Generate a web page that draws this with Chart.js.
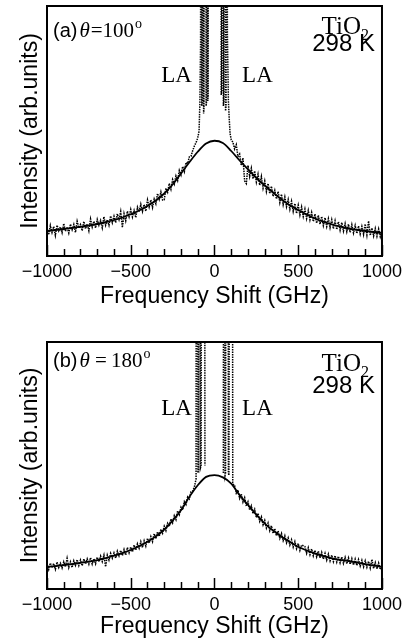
<!DOCTYPE html>
<html>
<head>
<meta charset="utf-8">
<script src="https://cdn.jsdelivr.net/npm/chart.js@4/dist/chart.umd.min.js"></script>
<style>
  html, body { margin: 0; padding: 0; background: #fff; }
  #wrap { position: relative; width: 407px; height: 642px; }
  canvas { position: absolute; left: 0; }
  #ca { top: 0; }
  #cb { top: 320px; }
</style>
</head>
<body>
<div id="wrap">
  <canvas id="ca" width="407" height="320"></canvas>
  <canvas id="cb" width="407" height="322"></canvas>
</div>
<script>
// Brillouin spectra of TiO2 at 298 K for two scattering angles.
// Intensities are in arbitrary units (0 = bottom of the frame, 1 = top).

const tickValues = [-1000, -500, 0, 500, 1000];
const wingStep = 10;               // GHz between samples in the spectral wings

// Lorentzian-type fit, sampled every 50 GHz from -1000 to 1000
const fitStart = -1000, fitStep = 50;
const fitA = [.100,.104,.108,.112,.117,.122,.128,.135,.144,.154,
              .167,.182,.200,.222,.250,.286,.330,.375,.417,.450,
              .461,
              .452,.420,.382,.347,.312,.282,.254,.226,.203,.184,
              .166,.150,.137,.127,.118,.110,.105,.100,.096,.093];
const fitB = [.090,.093,.097,.101,.106,.111,.117,.125,.135,.145,
              .158,.173,.191,.213,.241,.277,.319,.373,.420,.454,
              .461,
              .452,.427,.380,.340,.301,.265,.237,.212,.190,.171,
              .156,.144,.133,.124,.118,.113,.107,.101,.095,.090];

// (a) θ = 100°  measured spectrum
const wingLeftStartA = -1000;
const wingLeftA = [
  .112,.085,.122,.094,.118,.082,.123,.101,.116,.093,
  .130,.099,.116,.092,.127,.105,.126,.094,.139,.113,
  .126,.101,.138,.109,.128,.101,.148,.116,.139,.112,
  .146,.123,.142,.113,.157,.123,.145,.123,.160,.133,
  .159,.133,.169,.146,.178,.114,.169,.141,.179,.157,
  .186,.156,.182,.154,.195,.177,.207,.178,.206,.179,
  .224,.196,.224,.194,.228,.209,.250,.227,.256,.224,
  .225,.271,.255,.290,.267,.306,.288,.320,.302,.342,
  .324,.358,.337,.374,.370,.397,.399,.422,.440,.454,
  .472];
const peakLeftFreqA = [-92,-87,-83,-80,-77,-76,-74,-72,-66,-65,-63,-60,-52,-50,-48,-45,-41,-40,-38,-37];
const peakLeftA     = [.50,.62,.85,3,3,.60,.61,3,3,.57,.59,3,3,.60,.61,3,3,.62,.64,3];
const peakRightFreqA = [39,40,43,46,50,53,56,59,63,66,69,72,74,77,83,88,93,100];
const peakRightA     = [3,.644,.66,3,3,.60,.62,3,3,.58,.60,3,3,.89,.62,.55,.49,.465];
const wingRightStartA = 110;
const wingRightA = [
  .455,.428,.445,.398,.408,.362,.392,.300,.290,.362,
  .318,.351,.309,.340,.296,.327,.283,.318,.271,.300,
  .258,.290,.250,.279,.238,.262,.228,.258,.214,.247,
  .205,.236,.197,.226,.187,.219,.178,.210,.170,.203,
  .164,.196,.158,.188,.150,.182,.145,.174,.138,.168,
  .131,.163,.127,.158,.122,.153,.118,.149,.113,.145,
  .109,.141,.106,.137,.103,.134,.100,.130,.097,.127,
  .094,.125,.092,.122,.090,.120,.088,.118,.086,.128,
  .084,.140,.082,.112,.080,.110,.079,.108,.077,.098];

// (b) θ = 180°  measured spectrum
const wingLeftStartB = -1000;
const wingLeftB = [
  .100,.079,.105,.086,.103,.080,.109,.087,.104,.085,
  .110,.089,.124,.087,.110,.087,.114,.096,.119,.095,
  .117,.094,.122,.101,.122,.101,.127,.101,.123,.102,
  .129,.110,.133,.111,.137,.090,.137,.117,.144,.125,
  .146,.125,.153,.134,.156,.135,.160,.137,.168,.146,
  .170,.150,.178,.157,.183,.165,.192,.168,.195,.174,
  .205,.186,.212,.192,.224,.203,.232,.213,.242,.226,
  .254,.236,.266,.253,.284,.268,.297,.281,.316,.301,
  .331,.320,.354,.342,.373,.365,.394,.397,.413];
const peakLeftFreqB = [-115,-110,-107,-103,-99,-95,-91,-87,-84,-80,-77,-60,-57];
const peakLeftB     = [.43,.445,3,3,.47,.48,3,3,.49,.50,3,3,.50];
const peakRightFreqB = [53,55,60,63,66,70,80,83,86,94,106,109,115];
const peakRightB     = [.47,3,3,.46,.47,3,3,.47,.46,3,3,.43,.42];
const wingRightStartB = 120;
const wingRightB = [
  .420,.388,.401,.367,.385,.352,.370,.336,.353,
  .320,.337,.305,.322,.289,.307,.274,.292,.260,.278,
  .247,.267,.236,.256,.225,.245,.215,.235,.205,.225,
  .196,.216,.187,.207,.178,.199,.170,.192,.163,.184,
  .156,.178,.175,.172,.144,.167,.139,.162,.134,.157,
  .130,.153,.125,.148,.121,.144,.117,.141,.114,.137,
  .111,.135,.109,.132,.106,.130,.104,.128,.102,.126,
  .100,.123,.097,.121,.095,.119,.093,.116,.090,.114,
  .088,.112,.085,.120,.083,.107,.081,.105,.079,.097];

// ---- helpers -------------------------------------------------------------
const sampled = (start, step, values) => values.map((y, i) => ({ x: start + i * step, y }));
const paired = (xs, ys) => xs.map((x, i) => ({ x, y: ys[i] }));

const SANS = '"Liberation Sans", Arial, Helvetica, sans-serif';
const SERIF = '"Liberation Serif", "Times New Roman", Times, serif';

// Frame around the plot area plus inward minor/major ticks on the frequency axis
const frameAndTicks = {
  id: 'frameAndTicks',
  afterDatasetsDraw(chart) {
    const { ctx, chartArea: a, scales: { x } } = chart;
    ctx.save();
    ctx.strokeStyle = '#000';
    ctx.lineWidth = 1.5;
    for (let v = x.min; v <= x.max; v += 100) {
      const px = Math.round(x.getPixelForValue(v)) + 0.5;
      const len = v % 500 === 0 ? 11 : 7;
      ctx.beginPath();
      ctx.moveTo(px, a.bottom);
      ctx.lineTo(px, a.bottom - len);
      ctx.stroke();
    }
    ctx.lineWidth = 2;
    ctx.strokeRect(a.left, a.top, a.right - a.left, a.bottom - a.top);
    ctx.restore();
  }
};

// Panel tag, scattering angle, sample, temperature and LA labels
const panelLabels = {
  id: 'panelLabels',
  afterDraw(chart, args, o) {
    const { ctx, chartArea: a, scales: { x } } = chart;
    const t = a.top;
    ctx.save();
    ctx.fillStyle = '#000';
    ctx.textBaseline = 'alphabetic';
    ctx.textAlign = 'left';

    let px = a.left + 6;
    const base = t + o.tagY;
    ctx.font = '20px ' + SANS;
    ctx.fillText(o.tag, px, base);
    px += ctx.measureText(o.tag).width + 2;
    ctx.font = 'italic 21px ' + SERIF;
    ctx.fillText('\u03b8', px, base);
    px += ctx.measureText('\u03b8').width + 1;
    ctx.font = '21px ' + SERIF;
    ctx.fillText(o.eq, px, base);
    px += ctx.measureText(o.eq).width + 1;
    ctx.font = '14px ' + SERIF;
    ctx.fillText('o', px, base - 9);

    ctx.font = '23px ' + SERIF;
    ctx.textAlign = 'right';
    ctx.fillText('LA', x.getPixelForValue(-135), t + o.laY);
    ctx.textAlign = 'left';
    ctx.fillText('LA', x.getPixelForValue(165), t + o.laY);

    // TiO2 with subscript, right aligned with the temperature
    const rightEdge = a.right - 7;
    ctx.font = '16px ' + SERIF;
    const subW = ctx.measureText('2').width;
    ctx.textAlign = 'right';
    ctx.fillText('2', rightEdge - 6, t + o.tiY + 6);
    ctx.font = '25px ' + SERIF;
    ctx.fillText('TiO', rightEdge - 6 - subW, t + o.tiY);
    ctx.font = '24px ' + SANS;
    ctx.fillText('298 K', rightEdge, t + o.kY);
    ctx.restore();
  }
};

function makePanel(id, cfg) {
  const dotted = { borderColor: '#000', borderWidth: 1.5, borderDash: [1.5, 1],
                   pointRadius: 0, tension: 0 };
  return new Chart(document.getElementById(id), {
    type: 'line',
    data: {
      datasets: [
        { data: sampled(fitStart, fitStep, cfg.fit), borderColor: '#000', borderWidth: 1.8,
          pointRadius: 0, cubicInterpolationMode: 'monotone' },
        Object.assign({ data: cfg.left }, dotted),
        Object.assign({ data: cfg.right }, dotted)
      ]
    },
    options: {
      responsive: false,
      animation: false,
      events: [],
      layout: { padding: { left: 0, right: 25, top: cfg.padTop, bottom: 0 } },
      scales: {
        x: {
          type: 'linear', min: -1000, max: 1000,
          afterBuildTicks: s => { s.ticks = tickValues.map(value => ({ value })); },
          afterFit: s => { s.height = cfg.xHeight; },
          grid: { display: false, drawTicks: false },
          border: { display: false },
          ticks: {
            autoSkip: false, maxRotation: 0, padding: 5, color: '#000',
            font: { family: SANS, size: 18 },
            callback: v => (v < 0 ? '\u2212' + Math.abs(v) : String(v))
          },
          title: {
            display: true, text: 'Frequency Shift (GHz)', color: '#000',
            font: { family: SANS, size: 23 },
            padding: { top: 0, bottom: cfg.titlePadBottom }
          }
        },
        y: {
          min: 0, max: 1,
          afterFit: s => { s.width = 47; },
          grid: { display: false, drawTicks: false },
          border: { display: false },
          ticks: { display: false },
          title: {
            display: true, text: 'Intensity (arb.units)', color: '#000',
            font: { family: SANS, size: 23 },
            padding: { top: 17, bottom: 0 }
          }
        }
      },
      plugins: {
        legend: { display: false },
        tooltip: { enabled: false },
        panelLabels: cfg.labels
      }
    },
    plugins: [frameAndTicks, panelLabels]
  });
}

makePanel('ca', {
  fit: fitA,
  left: sampled(wingLeftStartA, wingStep, wingLeftA).concat(paired(peakLeftFreqA, peakLeftA)),
  right: paired(peakRightFreqA, peakRightA).concat(sampled(wingRightStartA, wingStep, wingRightA)),
  padTop: 6, xHeight: 64, titlePadBottom: 10,
  labels: { tag: '(a)', eq: '=100', tagY: 31, laY: 76, tiY: 28, kY: 45 }
});

makePanel('cb', {
  fit: fitB,
  left: sampled(wingLeftStartB, wingStep, wingLeftB).concat(paired(peakLeftFreqB, peakLeftB)),
  right: paired(peakRightFreqB, peakRightB).concat(sampled(wingRightStartB, wingStep, wingRightB)),
  padTop: 22, xHeight: 53, titlePadBottom: 2,
  labels: { tag: '(b)', eq: '\u2009=\u2009180', tagY: 25, laY: 73, tiY: 29, kY: 51 }
});
</script>
</body>
</html>
